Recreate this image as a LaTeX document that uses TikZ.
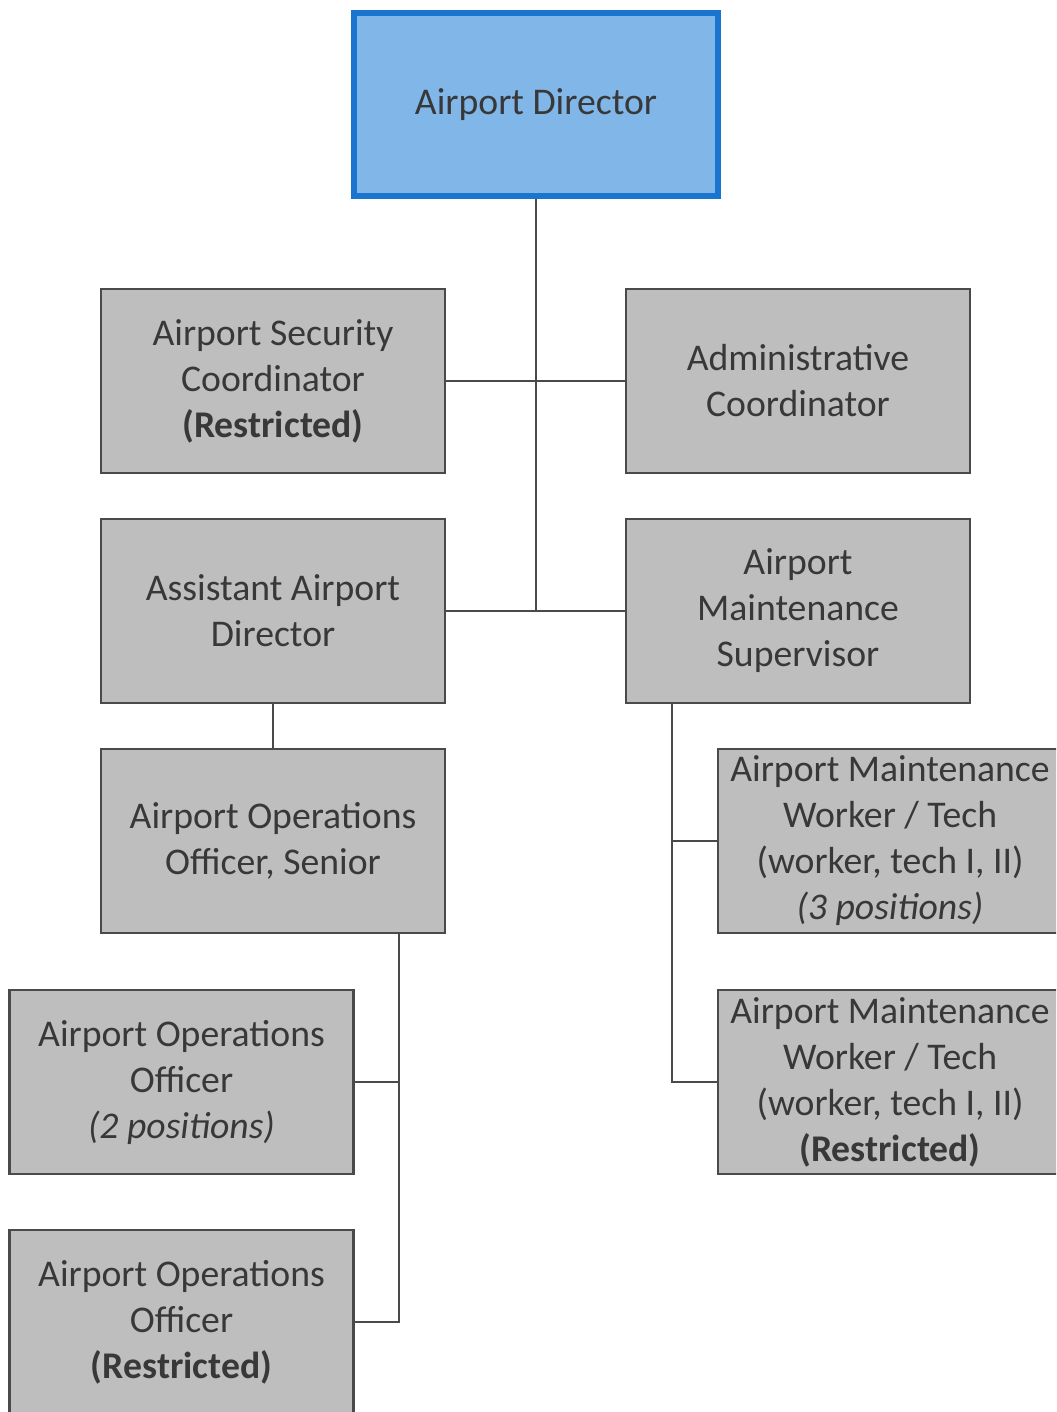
\documentclass[tikz,border=0pt]{standalone}
\usepackage{fontspec}
\setmainfont{Carlito}
\usetikzlibrary{positioning}
\definecolor{myblue}{HTML}{1A75CF}
\definecolor{mylightblue}{HTML}{80B6E8}
\definecolor{mygray}{HTML}{BEBEBE}
\definecolor{myedge}{HTML}{4A4A4A}
\colorlet{myink}{black!78}
\begin{document}
\begin{tikzpicture}[
    x=0.5pt, y=-0.5pt,
    font=\fontsize{18.85}{23}\selectfont,
    box/.style={draw=myedge, line width=1.2pt, fill=mygray, text=myink,
                align=center, minimum width=172pt, minimum height=92pt, inner sep=2pt},
    head/.style={box, draw=myblue, line width=3pt, fill=mylightblue,
                 minimum width=182pt, minimum height=91.5pt},
    link/.style={draw=myedge, line width=1pt},
  ]
  \clip (0,0) rectangle (1056,1412);
  \fill[white] (0,0) rectangle (1056,1412);

  % ------------------------------------------------------------------ top
  \node[head] (dir) at (536,104.5) {Airport Director};

  % ------------------------------------------------------------------ second and third rows
  \node[box] (sec)   at (273,381) {Airport Security\\Coordinator\\\textbf{(Restricted)}};
  \node[box] (adm)   at (798,381) {Administrative\\Coordinator};
  \node[box] (asst)  at (273,611) {Assistant Airport\\Director};
  \node[box] (maint) at (798,611) {Airport\\Maintenance\\Supervisor};

  % ------------------------------------------------------------------ operations
  \node[box] (aoos) at (273,841) {Airport Operations\\Officer, Senior};
  \node[box] (aoo1) at (181.5,1082) {Airport Operations\\Officer\\\textit{(2 positions)}};
  \node[box] (aoo2) at (181.5,1322) {Airport Operations\\Officer\\\textbf{(Restricted)}};

  % ------------------------------------------------------------------ maintenance
  \node[box] (mw1) at (890,841)
    {Airport Maintenance\\Worker / Tech\\(worker, tech I, II)\\\textit{(3 positions)}};
  \node[box] (mw2) at (890,1082)
    {Airport Maintenance\\Worker / Tech\\(worker, tech I, II)\\\textbf{(Restricted)}};

  % ------------------------------------------------------------------ connectors
  \path[link] (dir.south) -- (dir.south |- asst.east);
  \path[link] (sec.east) -- (adm.west);
  \path[link] (asst.east) -- (maint.west);
  \path[link] (asst.south) -- (aoos.north);

  \coordinate (opsbus) at (399,933);
  \path[link] (opsbus) |- (aoo2.east);
  \path[link] (aoo1.east) -- (opsbus |- aoo1.east);

  \coordinate (maintbus) at (672,703);
  \path[link] (maintbus) |- (mw2.west);
  \path[link] (mw1.west) -- (maintbus |- mw1.west);

\end{tikzpicture}
\end{document}
